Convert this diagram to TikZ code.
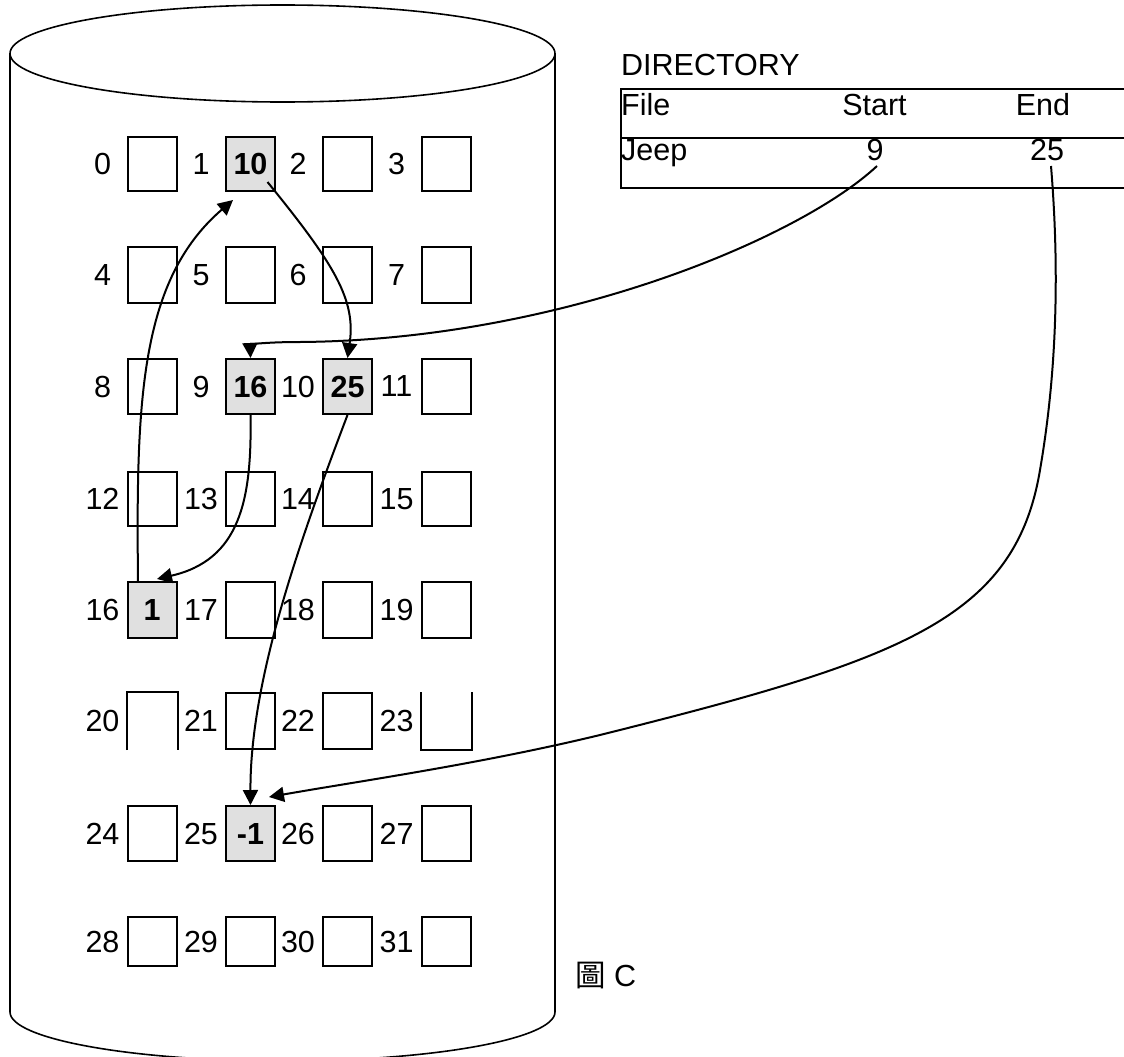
\documentclass[tikz,border=0pt]{standalone}
\usepackage{fontspec}
\setmainfont{Liberation Sans}
\newfontfamily\cjk{Noto Sans CJK TC}
\usetikzlibrary{arrows.meta,calc}
\definecolor{cellgray}{RGB}{224,224,224}
\expandafter\def\csname celltxt1\endcsname{10}
\expandafter\def\csname celltxt9\endcsname{16}
\expandafter\def\csname celltxt10\endcsname{25}
\expandafter\def\csname celltxt16\endcsname{1}
\expandafter\def\csname celltxt25\endcsname{-1}
\begin{document}
\begin{tikzpicture}[x=1pt,y=-1pt,
  big/.style={font=\fontsize{30.5}{36}\selectfont},
  cell/.style={draw, line width=2pt, minimum width=49pt, inner sep=0pt,
    font=\fontsize{30.5}{36}\selectfont\bfseries},
  lbl/.style={big, inner sep=0pt},
  txt/.style={big, inner sep=0pt},
  boxline/.style={line width=2pt},
  cyl/.style={line width=1.6pt},
  tbl/.style={line width=2pt},
  arr/.style={-{Triangle[length=15pt,width=15pt]}, line width=2pt},
  cs1/.style={fill=cellgray}, cs9/.style={fill=cellgray},
  cs10/.style={fill=cellgray}, cs16/.style={fill=cellgray},
  cs25/.style={fill=cellgray},
  cs20/.style={draw=none}, cs23/.style={draw=none}]
\useasboundingbox (0,0) rectangle (1124,1057);
\clip (0,0) rectangle (1124,1057);

% cylinder
\draw[cyl] (282.5,53.5) ellipse [x radius=272.5pt, y radius=48.5pt];
\draw[cyl] (10,53.5) -- (10,1012)
  .. controls (10,1039) and (132,1061) .. (282.5,1061)
  .. controls (433,1061) and (555,1039) .. (555,1012) -- (555,53.5);

% blocks
\foreach \r/\yc/\h in {0/164/54, 1/275/56, 2/386.5/55, 3/499/54, 4/610/56, 5/721/56, 6/833.5/55, 7/941.5/49}{
  \foreach \c/\xc in {0/152, 1/250.5, 2/347.5, 3/446}{
    \pgfmathtruncatemacro{\cellno}{4*\r+\c}
    \node[lbl] (l\cellno) at (\xc-49.5,\yc) {\cellno};
    \node[cell, minimum height=\h pt, cs\cellno/.try] (b\cellno) at (\xc,\yc)
      {\ifcsname celltxt\cellno\endcsname\csname celltxt\cellno\endcsname\fi};
  }
}
\draw[boxline] (b20.south west) -- (b20.north west) -- (b20.north east) -- (b20.south east);
\draw[boxline] (b23.north west) -- (b23.south west) -- (b23.south east) -- (b23.north east);

% directory
\node[txt, anchor=base west] (dir) at (621,76) {DIRECTORY};
\draw[tbl] (1130,89) -- (621,89) -- (621,188) -- (1130,188);
\draw[tbl] (621,138) -- (1130,138);
\node[txt, anchor=base west] (tfile) at (621,115) {File};
\node[txt, anchor=base] (tstart) at (874.5,115) {Start};
\node[txt, anchor=base] (tend) at (1043,115) {End};
\node[txt, anchor=base west] (tjeep) at (621,160) {Jeep};
\node[txt, anchor=base] (t9) at (875,160) {9};
\node[txt, anchor=base] (t25) at (1047,160) {25};

% caption
\node[txt, anchor=base west] (cap) at (575,986) {{\cjk 圖} C};

% connectors
\coordinate (aS) at ($(b1.center)+(17,18)$);
\draw[arr] (aS) .. controls (335,265) and (356,300) .. (b10.north);

\coordinate (bS) at ($(t9.base)+(2,6)$);
\draw[arr] (bS) .. controls (800,238) and (560,340) .. (300,342)
  .. controls (262,342) and (250,345) .. (b9.north);

\coordinate (cE) at ($(b16.north)+(5,-2)$);
\draw[arr] (b9.south) .. controls (252,500) and (240,560) .. (cE);

\coordinate (dS) at ($(b16.north)+(-14,0)$);
\coordinate (dE) at ($(b1.south west)+(8,8)$);
\draw[arr] (dS) .. controls (136,400) and (140,280) .. (dE);

\draw[arr] (b10.south) .. controls (300,540) and (250,680) .. (b25.north);

\coordinate (fS) at ($(t25.base)+(4,6)$);
\coordinate (fE) at ($(b25.north east)+(-7,-8)$);
\draw[arr] (fS) .. controls (1062,300) and (1052,400) .. (1040,470)
  .. controls (1015,620) and (900,660) .. (600,735)
  .. controls (480,764) and (360,781) .. (fE);
\end{tikzpicture}
\end{document}
